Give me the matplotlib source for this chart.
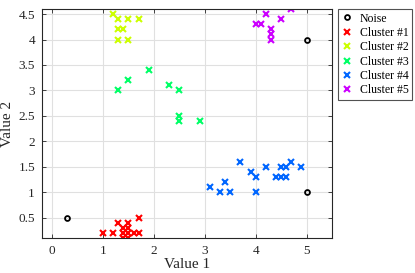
import matplotlib
matplotlib.use("Agg")
import matplotlib.pyplot as plt
import numpy as np

plt.rcParams['font.family'] = ['Liberation Serif', 'DejaVu Serif']

noise_x = [0.3, 5.0, 5.0]
noise_y = [0.5, 4.0, 1.0]

c1_x = [1.0, 1.2, 1.3, 1.5, 1.7, 1.4, 1.5, 1.4, 1.5, 1.6, 1.7, 1.4, 1.5]
c1_y = [0.2, 0.2, 0.4, 0.4, 0.5, 0.3, 0.3, 0.2, 0.2, 0.2, 0.2, 0.1, 0.1]

c2_x = [1.2, 1.3, 1.5, 1.7, 1.3, 1.4, 1.3, 1.5]
c2_y = [4.5, 4.4, 4.4, 4.4, 4.2, 4.2, 4.0, 4.0]

c3_x = [1.3, 1.5, 1.9, 2.3, 2.5, 2.5, 2.5, 2.9]
c3_y = [3.0, 3.2, 3.4, 3.1, 3.0, 2.5, 2.4, 2.4]

c4_x = [3.1, 3.3, 3.4, 3.5, 3.7, 3.9, 4.0, 4.0, 4.2, 4.4, 4.5, 4.5, 4.6, 4.6, 4.7, 4.9]
c4_y = [1.1, 1.0, 1.2, 1.0, 1.6, 1.4, 1.3, 1.0, 1.5, 1.3, 1.5, 1.3, 1.5, 1.3, 1.6, 1.5]

c5_x = [4.0, 4.1, 4.2, 4.5, 4.7, 4.3, 4.3, 4.3]
c5_y = [4.3, 4.3, 4.5, 4.4, 4.6, 4.2, 4.1, 4.0]

labels = ['Noise', 'Cluster #1', 'Cluster #2', 'Cluster #3', 'Cluster #4', 'Cluster #5']
colors = [(1, 0, 0), (0.8, 1, 0), (0, 1, 0.4), (0, 0.4, 1), (0.8, 0, 1)]

xticks = [0, 1, 2, 3, 4, 5]
yticks = [0.5, 1, 1.5, 2, 2.5, 3, 3.5, 4, 4.5]

fig = plt.figure(figsize=(4.15, 2.73), dpi=100)
ax = fig.add_axes([0.101, 0.128, 0.699, 0.839])

ax.plot(noise_x, noise_y, linestyle='none', marker='o', markersize=3.5,
        markerfacecolor='none', markeredgecolor='black', markeredgewidth=1.3, label=labels[0])
for xs, ys, c, lab in zip([c1_x, c2_x, c3_x, c4_x, c5_x], [c1_y, c2_y, c3_y, c4_y, c5_y], colors, labels[1:]):
    ax.plot(xs, ys, linestyle='none', marker='x', markersize=4, color=c,
            markeredgewidth=1.5, label=lab)

ax.set_xlim(-0.2, 5.5)
ax.set_ylim(0.1, 4.6)
ax.set_xticks(xticks)
ax.set_yticks(yticks)
ax.set_xticklabels([f"{v:g}" for v in xticks])
ax.set_yticklabels([f"{v:g}" for v in yticks])
ax.grid(True, color=(0.88, 0.88, 0.88), linewidth=0.8)
ax.set_axisbelow(True)
ax.tick_params(direction='in', top=True, right=True, length=3, width=0.6,
               colors=(0.15, 0.15, 0.15), labelsize=9.5, pad=5)
for s in ax.spines.values():
    s.set_color((0.15, 0.15, 0.15))
    s.set_linewidth(0.8)
ax.set_xlabel('Value 1', fontsize=11, color=(0.15, 0.15, 0.15), labelpad=1)
ax.set_ylabel('Value 2', fontsize=11, color=(0.15, 0.15, 0.15), labelpad=3)

leg = ax.legend(loc='upper left', bbox_to_anchor=(1.022, 1.0), fontsize=8.5,
                frameon=True, fancybox=False, edgecolor=(0.15, 0.15, 0.15),
                borderpad=0.3, labelspacing=0.2, handlelength=0.8, handletextpad=0.7,
                borderaxespad=0)
leg.get_frame().set_linewidth(0.8)

fig.savefig('out.png', dpi=100)
